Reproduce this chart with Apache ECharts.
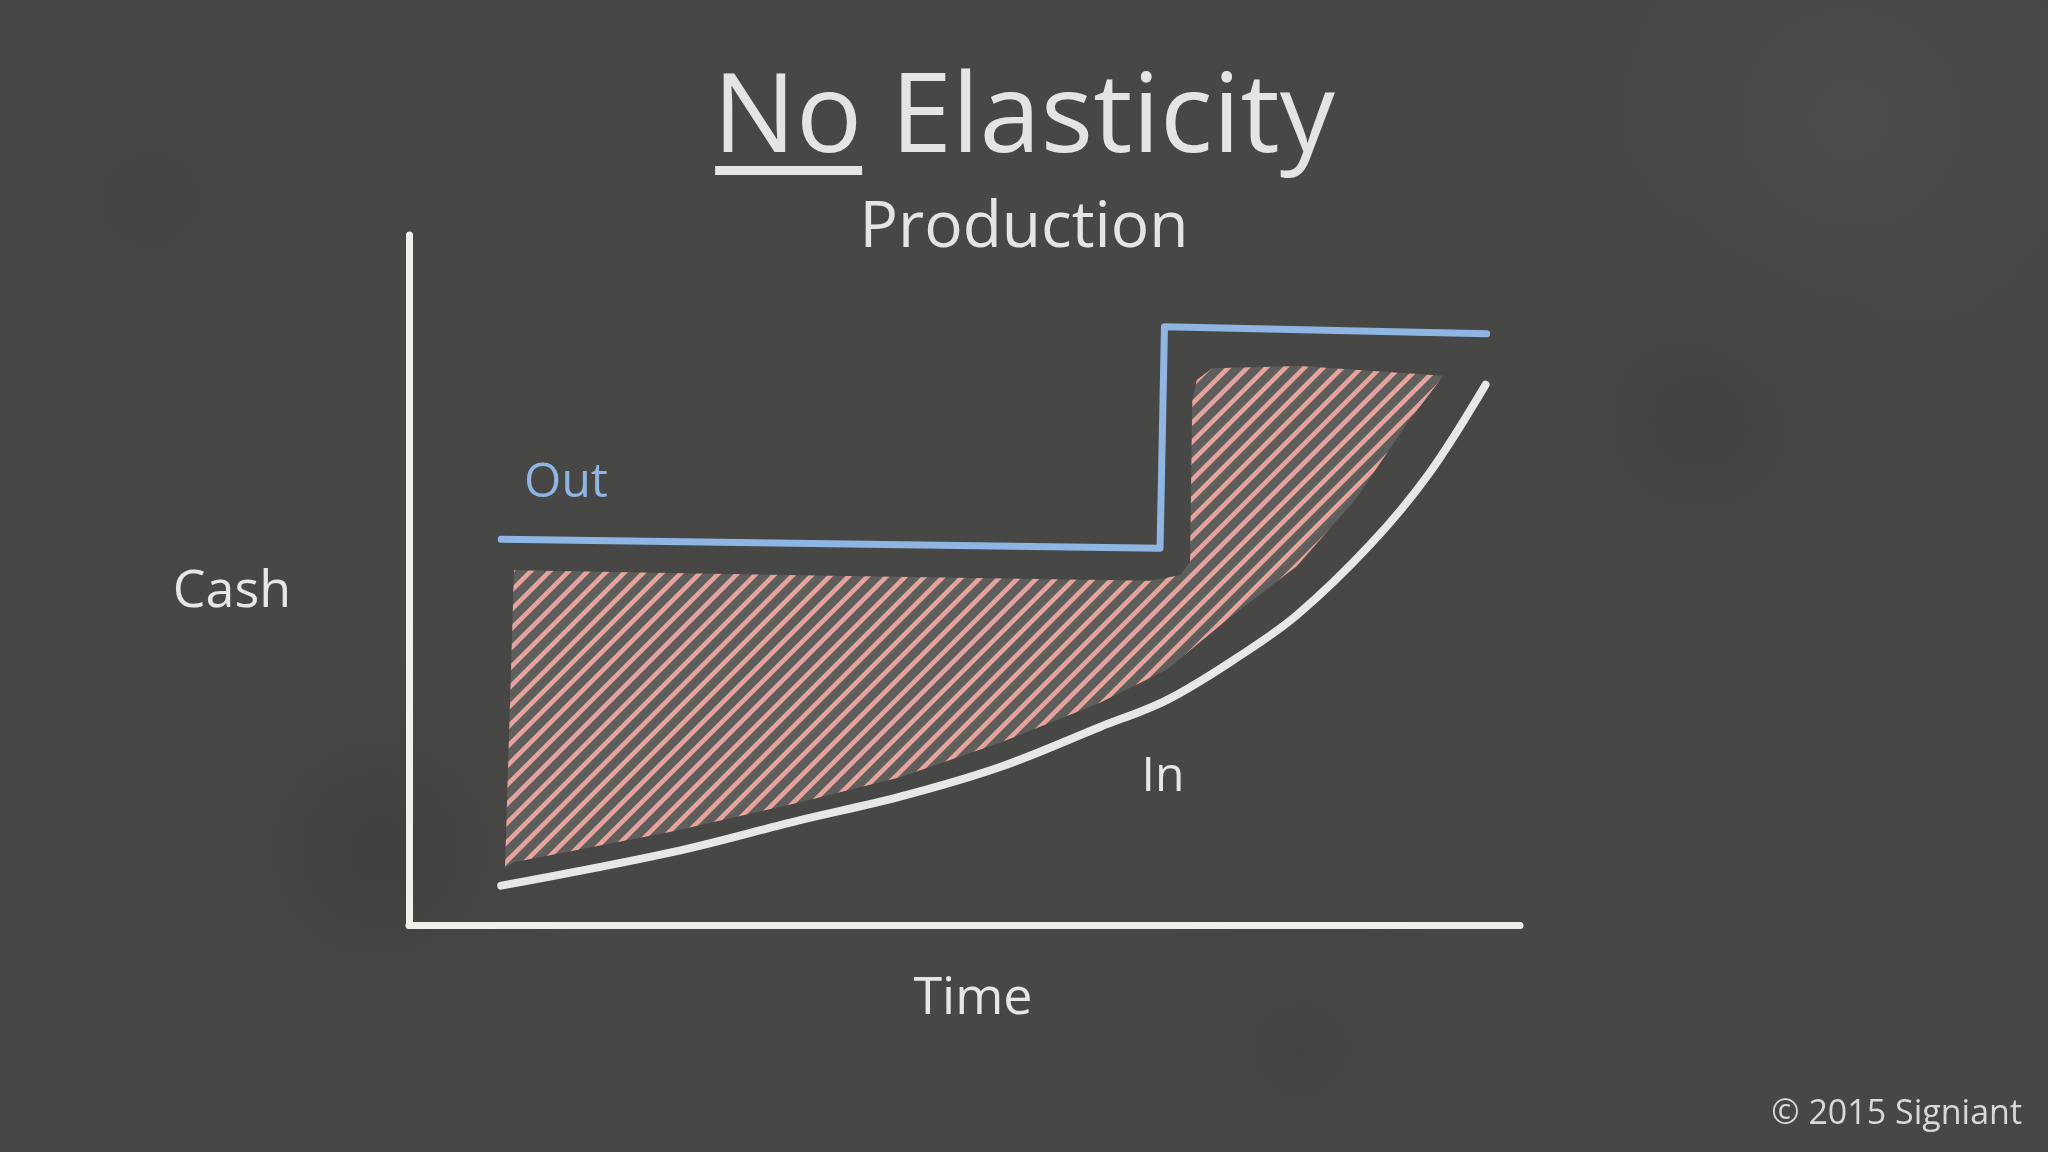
<!DOCTYPE html>
<html>
<head>
<meta charset="utf-8">
<script src="https://cdn.jsdelivr.net/npm/echarts@6/dist/echarts.min.js"></script>
<style>
html,body{margin:0;padding:0;background:#474746;}
#chart{width:2048px;height:1152px;}
</style>
</head>
<body>
<div id="chart"></div>
<script>
// ---- data (axis units 0..100) ----
var outX = [8.3, 67.6, 68.0, 97.0];
var outY = [55.9, 54.6, 86.7, 85.7];

var inX = [8.3, 23.8, 35.2, 44.2, 53.2, 62.2, 68.2, 74.2, 79.9, 86.5, 91.8, 96.9];
var inY = [5.7, 10.6, 15.2, 18.6, 22.9, 28.7, 32.6, 38.4, 44.9, 55.1, 65.4, 78.3];

// shaded gap between Out and In (outline of the hatched region)
var gapX = [9.45, 35.2, 66.7, 69.4, 70.3, 70.5, 70.9, 72.3, 80.2, 93.1, 89.8, 85.2, 79.9, 73.6, 68.2, 62.2, 53.2, 44.2, 35.2, 23.8, 9.45, 8.64];
var gapY = [51.4, 50.7, 49.9, 50.7, 52.6, 76.1, 79.0, 80.7, 81.0, 79.6, 72.6, 61.7, 52.0, 44.2, 37.0, 32.2, 26.4, 21.4, 17.8, 13.6, 9.1, 8.3];

var titleText = 'No Elasticity';
var titleUnderlined = 'No';
var subTitleText = 'Production';
var yName = 'Cash';
var xName = 'Time';
var outName = 'Out';
var inName = 'In';
var credit = '\u00A9 2015 Signiant';

// ---- hatch pattern ----
function makeHatch() {
  var s = 19;
  var c = document.createElement('canvas');
  c.width = s; c.height = s;
  var g = c.getContext('2d');
  g.fillStyle = '#5e5e5c';
  g.fillRect(0, 0, s, s);
  g.strokeStyle = '#e9a39d';
  g.lineWidth = 4.6;
  g.lineCap = 'square';
  g.beginPath();
  g.moveTo(0, s); g.lineTo(s, 0);
  g.moveTo(-2, 2); g.lineTo(2, -2);
  g.moveTo(s - 2, s + 2); g.lineTo(s + 2, s - 2);
  g.stroke();
  return c;
}
var hatch = makeHatch();

// soft chalkboard smudges (background decoration only)
function smudge(cx, cy, r, color) {
  return {
    type: 'circle', z: -10, silent: true,
    shape: { cx: cx, cy: cy, r: r },
    style: { fill: { type: 'radial', x: 0.5, y: 0.5, r: 0.5,
      colorStops: [{ offset: 0, color: color }, { offset: 1, color: 'rgba(71,71,70,0)' }] } }
  };
}

var FONT = '"Open Sans", "Noto Sans", sans-serif';
var TITLE_FONT = '400 110px ' + FONT;

// measure title so the underline sits under the first word
var mctx = document.createElement('canvas').getContext('2d');
mctx.font = TITLE_FONT;
var titleW = mctx.measureText(titleText).width;
var noW = mctx.measureText(titleUnderlined).width;
var titleLeft = 1024 - titleW / 2;

var chart = echarts.init(document.getElementById('chart'));

function pairs(xs, ys) { return xs.map(function (x, i) { return [x, ys[i]]; }); }

var option = {
  backgroundColor: '#474746',
  animation: false,
  grid: { left: 409, right: 528, top: 235, bottom: 227 },
  xAxis: {
    type: 'value', min: 0, max: 100,
    axisLine: { show: true, lineStyle: { color: '#f1efe9', width: 7, cap: 'round' } },
    axisTick: { show: false }, axisLabel: { show: false }, splitLine: { show: false }
  },
  yAxis: {
    type: 'value', min: 0, max: 100,
    axisLine: { show: true, lineStyle: { color: '#f1efe9', width: 7, cap: 'round' } },
    axisTick: { show: false }, axisLabel: { show: false }, splitLine: { show: false }
  },
  series: [
    {
      name: 'gap', type: 'custom', z: 1,
      data: [0],
      renderItem: function (params, api) {
        var pts = gapX.map(function (x, i) { return api.coord([x, gapY[i]]); });
        return {
          type: 'polygon',
          shape: { points: pts },
          style: { fill: { image: hatch, repeat: 'repeat' }, stroke: null }
        };
      }
    },
    {
      name: outName, type: 'line', z: 3,
      data: pairs(outX, outY),
      showSymbol: false, symbol: 'none',
      lineStyle: { color: '#8fb5e3', width: 7, cap: 'round', join: 'round' }
    },
    {
      name: inName, type: 'line', z: 3,
      data: pairs(inX, inY),
      smooth: 0.35, showSymbol: false, symbol: 'none',
      lineStyle: { color: '#e8e7e3', width: 8, cap: 'round', join: 'round' }
    }
  ],
  graphic: [
    smudge(380, 850, 260, 'rgba(58,58,57,0.55)'),
    smudge(1700, 420, 300, 'rgba(60,60,59,0.45)'),
    smudge(1850, 120, 320, 'rgba(84,84,82,0.45)'),
    smudge(150, 200, 280, 'rgba(62,62,61,0.4)'),
    smudge(1300, 1050, 280, 'rgba(62,62,61,0.4)'),
    smudge(700, 420, 260, 'rgba(64,64,63,0.35)'),
    { type: 'text', x: 1024, y: 66, style: { text: titleText, font: TITLE_FONT, fill: '#e4e4e2', align: 'center', verticalAlign: 'top' } },
    { type: 'rect', shape: { x: titleLeft + 2, y: 166, width: noW - 2, height: 9 }, style: { fill: '#e4e4e2' } },
    { type: 'text', left: 'center', top: 197, style: { text: subTitleText, font: '400 64px ' + FONT, fill: '#e4e4e2' } },
    { type: 'text', x: 232, y: 592, style: { text: yName, font: '400 52px ' + FONT, fill: '#e6e6e4', align: 'center', verticalAlign: 'middle' } },
    { type: 'text', x: 973, y: 999, style: { text: xName, font: '400 52px ' + FONT, fill: '#e6e6e4', align: 'center', verticalAlign: 'middle' } },
    { type: 'text', x: 566, y: 483, style: { text: outName, font: '400 48px ' + FONT, fill: '#8fb5e3', align: 'center', verticalAlign: 'middle' } },
    { type: 'text', x: 1163, y: 777, style: { text: inName, font: '400 48px ' + FONT, fill: '#e6e6e4', align: 'center', verticalAlign: 'middle' } },
    { type: 'text', x: 2022, y: 1114, style: { text: credit, font: '400 34px ' + FONT, fill: '#d8d8d6', align: 'right', verticalAlign: 'middle' } }
  ]
};
chart.setOption(option);
</script>
</body>
</html>
